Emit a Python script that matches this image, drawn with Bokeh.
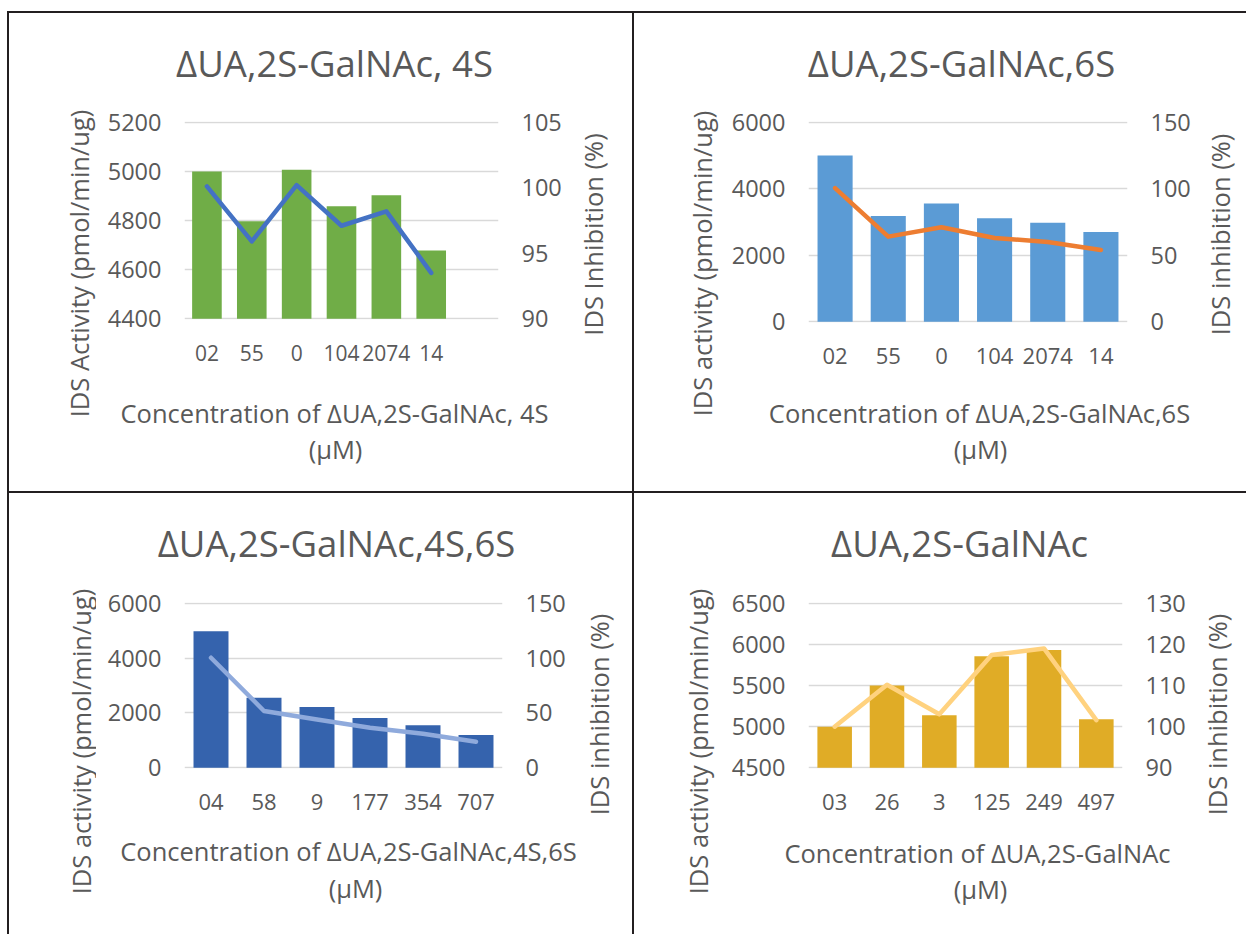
import math
from bokeh.plotting import figure
from bokeh.models import Range1d, LinearAxis, FixedTicker, Label, Div, Spacer
from bokeh.layouts import row, column
from bokeh.embed import file_html
from bokeh.resources import INLINE

# ---------------- data ----------------
p1_title = "ΔUA,2S-GalNAc, 4S"
p1_xtitle = "Concentration of ΔUA,2S-GalNAc, 4S"
p1_ylabel = "IDS Activity (pmol/min/ug)"
p1_y2label = "IDS Inhibition (%)"
p1_cats = ["02", "55", "0", "104", "2074", "14"]
p1_activity = [5000, 4797, 5007, 4858, 4903, 4678]
p1_inhibition = [100.1, 95.9, 100.2, 97.1, 98.2, 93.5]
p1_left_ticks = [4400, 4600, 4800, 5000, 5200]
p1_right_ticks = [90, 95, 100, 105]

p2_title = "ΔUA,2S-GalNAc,6S"
p2_xtitle = "Concentration of ΔUA,2S-GalNAc,6S"
p2_ylabel = "IDS activity (pmol/min/ug)"
p2_y2label = "IDS inhibition (%)"
p2_cats = ["02", "55", "0", "104", "2074", "14"]
p2_activity = [5000, 3180, 3560, 3110, 2980, 2700]
p2_inhibition = [100.5, 64, 71, 63, 60, 54]
p2_left_ticks = [0, 2000, 4000, 6000]
p2_right_ticks = [0, 50, 100, 150]

p3_title = "ΔUA,2S-GalNAc,4S,6S"
p3_xtitle = "Concentration of ΔUA,2S-GalNAc,4S,6S"
p3_ylabel = "IDS activity (pmol/min/ug)"
p3_y2label = "IDS inhibition (%)"
p3_cats = ["04", "58", "9", "177", "354", "707"]
p3_activity = [4980, 2550, 2220, 1820, 1550, 1195]
p3_inhibition = [100.3, 51.8, 44.0, 36.6, 31.1, 23.8]
p3_left_ticks = [0, 2000, 4000, 6000]
p3_right_ticks = [0, 50, 100, 150]

p4_title = "ΔUA,2S-GalNAc"
p4_xtitle = "Concentration of ΔUA,2S-GalNAc"
p4_ylabel = "IDS activity (pmol/min/ug)"
p4_y2label = "IDS inhibition (%)"
p4_cats = ["03", "26", "3", "125", "249", "497"]
p4_activity = [5000, 5500, 5140, 5855, 5930, 5090]
p4_inhibition = [100, 110.2, 103, 117.4, 119, 101.6]
p4_left_ticks = [4500, 5000, 5500, 6000, 6500]
p4_right_ticks = [90, 100, 110, 120, 130]

unit_label = "(µM)"

# ---------------- style ----------------
FONT = "Open Sans"
TXT = "#595959"
GRID = "#D9D9D9"
BORDER = "#231F20"


def textfig(w, h):
    f = figure(width=w, height=h, x_range=Range1d(0, w), y_range=Range1d(h, 0),
               output_backend="svg", toolbar_location=None, min_border=0,
               x_axis_location=None, y_axis_location=None)
    f.grid.visible = False
    f.outline_line_color = None
    f.background_fill_color = "white"
    f.border_fill_color = "white"
    return f


def put(f, ox, oy, text, ax_, ay_, size, angle=0.0):
    f.add_layout(Label(x=ax_ - ox, y=ay_ - oy, text=text, text_align="center",
                       text_baseline="middle", angle=angle, text_font=FONT,
                       text_font_size=size, text_color=TXT))


def panel(cell, main, frame, slots, cats, bars, pct, lticks, rticks,
          bar_color, line_color, title, xtitle, ylab, y2lab, pos, xtick_size="22px"):
    cl, ct, cr, cb = cell
    ml, mt, mr, mb = main
    fl, ft, fr, fb = frame

    lo, hi = lticks[0], lticks[-1]
    d = (hi - lo) * 0.004
    rlo, rhi = rticks[0], rticks[-1]
    rd = (rhi - rlo) * 0.004
    p = figure(width=mr - ml, height=mb - mt, output_backend="svg", toolbar_location=None,
               x_range=Range1d(-0.5, slots - 0.5),
               y_range=Range1d(lo - d, hi + d),
               min_border_left=fl - ml, min_border_right=mr - fr,
               min_border_top=ft - mt - 1, min_border_bottom=mb - fb - 1)
    p.outline_line_color = None
    p.background_fill_color = "white"
    p.border_fill_color = "white"
    p.extra_y_ranges = {"pct": Range1d(rlo - rd, rhi + rd)}

    idx = list(range(len(cats)))
    p.vbar(x=idx, top=bars, bottom=lo, width=0.66,
           fill_color=bar_color, line_color=None)
    p.line(x=idx, y=pct, y_range_name="pct", line_color=line_color,
           line_width=4.5, line_join="round", line_cap="round")

    lt = FixedTicker(ticks=lticks)
    p.yaxis.ticker = lt
    p.ygrid.ticker = lt
    p.ygrid.grid_line_color = GRID
    p.ygrid.grid_line_width = 1.5
    p.xgrid.visible = False

    p.xaxis.ticker = FixedTicker(ticks=idx)
    p.xaxis.major_label_overrides = {i: c for i, c in enumerate(cats)}

    rax = LinearAxis(y_range_name="pct", ticker=FixedTicker(ticks=rticks))
    p.add_layout(rax, "right")

    for ax in p.axis:
        ax.axis_line_color = None
        ax.major_tick_line_color = None
        ax.minor_tick_line_color = None
        ax.major_label_text_font = FONT
        ax.major_label_text_font_size = "23.5px"
        ax.major_label_text_color = TXT
        ax.major_label_standoff = 17
    p.xaxis.major_label_text_font_size = xtick_size
    p.xaxis.major_label_standoff = 19

    left = textfig(ml - cl, cb - ct)
    right = textfig(cr - mr, cb - ct)
    top = textfig(mr - ml, mt - ct)
    bottom = textfig(mr - ml, cb - mb)

    put(left, cl, ct, ylab, pos["yl"][0], pos["yl"][1], "25.5px", math.pi / 2)
    put(right, mr, ct, y2lab, pos["yr"][0], pos["yr"][1], "25.5px", math.pi / 2)
    put(top, ml, ct, title, pos["title"][0], pos["title"][1], "36.5px")
    put(bottom, ml, mb, xtitle, pos["xt"][0], pos["xt"][1], "25.5px")
    put(bottom, ml, mb, unit_label, pos["um"][0], pos["um"][1], "25.5px")

    middle = column(top, row(p, spacing=0), bottom, spacing=0)
    return row(left, middle, right, spacing=0)


c1 = panel((9, 13, 632, 491), (100, 102, 572, 380), (184, 122, 498, 318), 7,
           p1_cats, p1_activity, p1_inhibition, p1_left_ticks, p1_right_ticks,
           "#70AD47", "#4472C4", p1_title, p1_xtitle, p1_ylabel, p1_y2label,
           {"title": (334, 62), "xt": (334, 412), "um": (335, 448),
            "yl": (78, 263), "yr": (592, 234)}, xtick_size="21px")
c2 = panel((634, 13, 1246, 491), (725, 102, 1199, 383), (808, 122, 1127, 321), 6,
           p2_cats, p2_activity, p2_inhibition, p2_left_ticks, p2_right_ticks,
           "#5B9BD5", "#ED7D31", p2_title, p2_xtitle, p2_ylabel, p2_y2label,
           {"title": (961, 62), "xt": (979, 412), "um": (980, 448),
            "yl": (701, 263), "yr": (1219, 234)})
c3 = panel((9, 493, 632, 934), (96, 583, 578, 829), (184, 603, 502, 767), 6,
           p3_cats, p3_activity, p3_inhibition, p3_left_ticks, p3_right_ticks,
           "#3563AD", "#8FAADC", p3_title, p3_xtitle, p3_ylabel, p3_y2label,
           {"title": (336, 542), "xt": (348, 850), "um": (355, 887),
            "yl": (80, 741), "yr": (598, 714)})
c4 = panel((634, 493, 1246, 934), (725, 583, 1196, 829), (808, 603, 1122, 767), 6,
           p4_cats, p4_activity, p4_inhibition, p4_left_ticks, p4_right_ticks,
           "#E0AC26", "#FFD27F", p4_title, p4_xtitle, p4_ylabel, p4_y2label,
           {"title": (959, 542), "xt": (977, 852), "um": (980, 888),
            "yl": (697, 741), "yr": (1216, 714)})


def hline(w):
    return Div(text="", width=w, height=2, margin=0,
               styles={"background-color": BORDER})


def vline(h):
    return Div(text="", width=2, height=h, margin=0,
               styles={"background-color": BORDER})


layout = column(
    Spacer(width=1246, height=11, margin=0),
    row(Spacer(width=7, height=2, margin=0), hline(1239), spacing=0),
    row(Spacer(width=7, height=478, margin=0), vline(478), c1, vline(478), c2, spacing=0),
    row(Spacer(width=7, height=2, margin=0), hline(1239), spacing=0),
    row(Spacer(width=7, height=441, margin=0), vline(441), c3, vline(441), c4, spacing=0),
    spacing=0,
)

open("out.html", "w").write(file_html(layout, INLINE))
